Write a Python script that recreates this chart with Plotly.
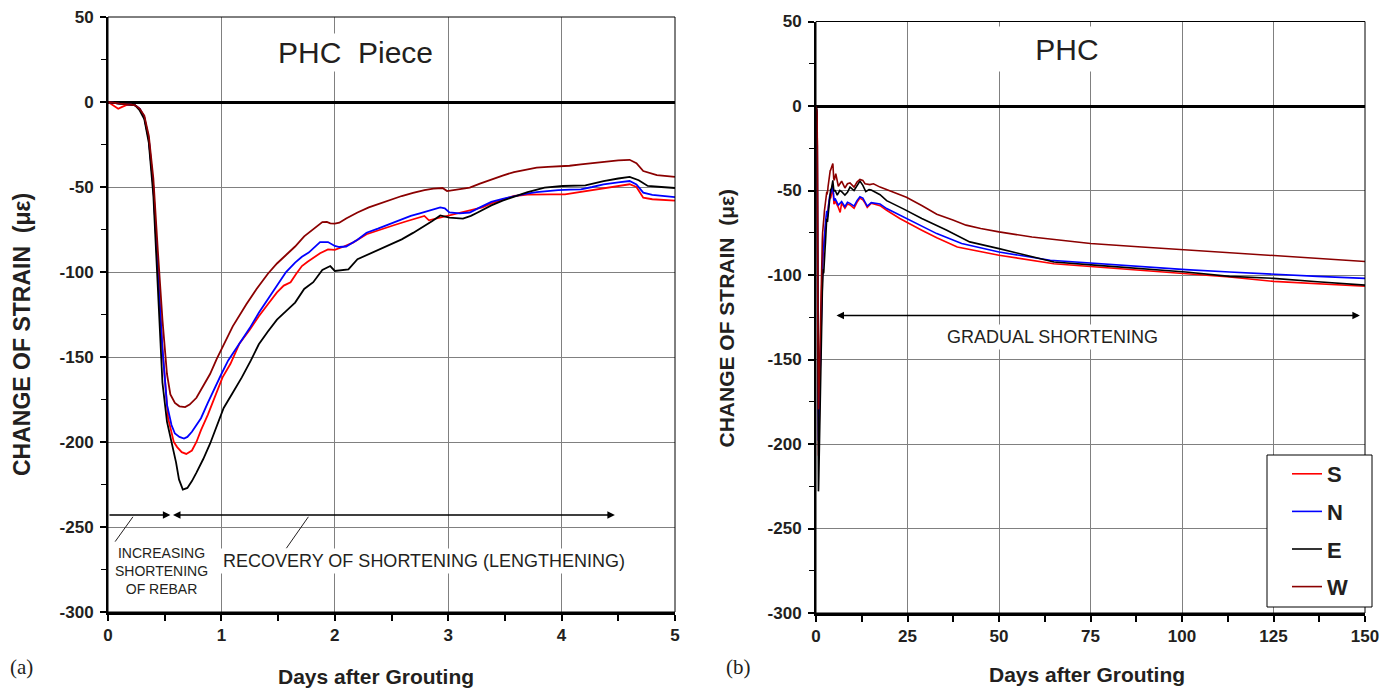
import plotly.graph_objects as go

# ---------------- strain records (micro-strain) ----------------
# First five days after grouting, gauges S / N / E / W
S_days = [0, 0.04, 0.09, 0.12, 0.16, 0.2, 0.24, 0.28, 0.32, 0.36, 0.40, 0.44, 0.48, 0.53, 0.58,
          0.61, 0.65, 0.69, 0.74, 0.78, 0.82, 0.88, 0.94, 1.01, 1.08, 1.16, 1.25, 1.33, 1.41,
          1.49, 1.55, 1.61, 1.66, 1.71, 1.76, 1.81, 1.87, 1.94, 2.0, 2.08, 2.16, 2.28, 2.4,
          2.52, 2.64, 2.75, 2.79, 2.83, 2.9, 2.99, 3.1, 3.19, 3.3, 3.38, 3.48, 3.58, 3.7, 3.78,
          3.9, 4.03, 4.15, 4.24, 4.4, 4.52, 4.6, 4.66, 4.72, 4.8, 4.9, 5.0]
S_strain = [0, -2, -4, -3, -1.8, -1.5, -2, -4, -9, -22, -50, -100, -145, -186, -200,
            -203, -206, -207, -205, -200, -193, -184, -174, -162, -154, -142, -134, -126, -119,
            -112, -108, -106, -101, -96.5, -94, -91.6, -89, -86.7, -87, -85, -82.7, -77.8, -75,
            -72.5, -70, -67.5, -67, -69.6, -68.5, -67, -65.5, -64, -62, -59.6, -57.5, -55.3, -54.5,
            -54.3, -54.3, -54.3, -53, -52.4, -50.5, -49, -48.4, -50, -56.3, -57.2, -57.8, -58]

N_days = [0, 0.1, 0.2, 0.24, 0.28, 0.32, 0.36, 0.40, 0.44, 0.48, 0.52, 0.56, 0.59, 0.63, 0.67,
          0.70, 0.74, 0.78, 0.82, 0.88, 0.94, 1.0, 1.06, 1.16, 1.25, 1.33, 1.41, 1.49, 1.57,
          1.65, 1.71, 1.77, 1.82, 1.87, 1.94, 2.0, 2.04, 2.10, 2.2, 2.28, 2.38, 2.48, 2.58,
          2.67, 2.75, 2.83, 2.93, 2.97, 3.01, 3.1, 3.19, 3.28, 3.38, 3.48, 3.58, 3.68, 3.78,
          3.88, 3.97, 4.08, 4.17, 4.27, 4.37, 4.5, 4.6, 4.66, 4.72, 4.8, 4.9, 5.0]
N_strain = [0, -1, -1.5, -2, -4, -9, -22, -50, -100, -145, -178, -190, -195, -197, -198,
            -197, -194, -190, -186, -177, -168, -160, -152, -142, -133, -124, -116, -108, -100,
            -94.5, -91, -88.6, -85.5, -82.4, -82.4, -84.7, -85.3, -85, -81, -76.9, -74.5, -72, -69.5,
            -67, -65.5, -64, -62, -62.5, -65, -65.5, -65, -62, -58.8, -57, -55.3, -54, -53,
            -52.4, -51.8, -51.6, -51.4, -50, -48.4, -47.3, -46.5, -48.5, -53.3, -54.6, -55.3, -56]

E_days = [0, 0.1, 0.2, 0.24, 0.28, 0.32, 0.36, 0.40, 0.44, 0.48, 0.52, 0.567, 0.60, 0.626,
          0.66, 0.70, 0.74, 0.78, 0.84, 0.90, 0.96, 1.02, 1.1, 1.18, 1.26, 1.33, 1.41, 1.49,
          1.57, 1.65, 1.73, 1.81, 1.89, 1.96, 2.0, 2.06, 2.12, 2.2, 2.3, 2.4, 2.5, 2.59, 2.69,
          2.79, 2.86, 2.93, 2.97, 3.01, 3.13, 3.2, 3.26, 3.38, 3.48, 3.58, 3.7, 3.85, 4.01,
          4.21, 4.37, 4.5, 4.6, 4.68, 4.76, 4.88, 5.0]
E_strain = [0, -1, -1.5, -2, -5, -10, -24, -55, -110, -165, -188, -201, -212, -222,
            -228, -227, -223, -218, -210, -201, -190, -180, -171, -162, -152, -142.5, -135, -128,
            -123, -118, -110, -106, -98.8, -96.5, -99.4, -99, -98.4, -92.5, -89.5, -86.7, -83.7, -80.8, -77,
            -73, -70, -66.7, -67.5, -68, -68.6, -67, -65, -60.8, -58, -55.7, -53, -50.4, -49.4,
            -49, -46.5, -45, -44, -46, -49.4, -50, -50.6]

W_days = [0, 0.1, 0.2, 0.24, 0.28, 0.32, 0.36, 0.40, 0.44, 0.48, 0.52, 0.55, 0.59, 0.63, 0.68,
          0.72, 0.78, 0.84, 0.90, 0.96, 1.02, 1.1, 1.22, 1.31, 1.41, 1.49, 1.57, 1.65, 1.73,
          1.81, 1.89, 1.93, 1.96, 2.0, 2.04, 2.1, 2.2, 2.3, 2.4, 2.5, 2.59, 2.69, 2.79, 2.87,
          2.95, 2.99, 3.1, 3.19, 3.28, 3.38, 3.48, 3.58, 3.68, 3.78, 3.88, 3.97, 4.07, 4.17,
          4.27, 4.37, 4.5, 4.60, 4.66, 4.72, 4.84, 5.0]
W_strain = [0, -1, -1.5, -2, -4, -8, -20, -45, -88, -128, -160, -172, -177, -179, -179.5,
            -178, -174, -167, -160, -151, -143, -132, -119, -110, -101, -95, -90, -85, -79,
            -75, -70.6, -70.5, -71.4, -71.5, -71, -68.5, -65, -62, -59.6, -57.5, -55.3, -53.5, -51.8, -51,
            -50.6, -52.4, -51.5, -50.4, -48, -45.5, -43.3, -41.2, -39.8, -38.6, -38.2, -38, -37.5, -36.7,
            -36, -35, -34.3, -34, -36, -40.6, -43, -44]

# Later readings (after day 5, up to 150 days)
S_late_days = [5.2, 6.1, 6.6, 7.0, 7.9, 8.6, 9.3, 10.4, 11.2, 12, 12.8, 13.4, 14, 15.1, 17.5,
               19.3, 22.9, 28.9, 33, 38.6, 50, 65, 77, 89, 101, 113, 125, 137, 150]
S_late = [-56, -60, -63, -57.5, -60.5, -58, -58.5, -60.5, -57, -54.5, -55.5, -57.5, -60, -57.5, -59,
          -61.7, -66.6, -73.5, -78, -83.4, -88.3, -93.3, -95.3, -97.2, -99.2, -101.2, -103.8, -105.1, -106.7]

N_late_days = [5.2, 6.1, 7.0, 7.9, 8.6, 9.3, 10.4, 11.2, 12, 12.8, 13.4, 14, 15.1, 17.5,
               19.3, 22.9, 28.9, 33, 39.8, 50, 64, 77, 89, 101, 113, 125, 137, 150]
N_late = [-54.7, -58.6, -56.6, -59.6, -57, -57.6, -59.2, -56, -53.7, -54.5, -56.6, -59.2, -57.2, -58,
          -60.7, -64.6, -71.5, -75.5, -81.4, -86.4, -91.3, -93.3, -95.3, -96.8, -98.2, -99.6, -100.8, -102]

E_late_days = [5.2, 5.8, 6.5, 7.0, 7.9, 8.6, 9.3, 10.4, 11.2, 12, 12.8, 13.6, 14.5, 15.1, 17.5,
               19.3, 24, 28.9, 35.6, 42, 50, 57, 65, 77, 89, 101, 113, 125, 137, 150]
E_late = [-49.7, -52.7, -50, -50.7, -52.7, -51, -48, -50, -47, -44.4, -47, -50.7, -49.5, -49.7, -52.5,
          -56, -61, -66.6, -73.4, -80.4, -84.4, -88, -92.3, -94.3, -96.2, -98.2, -100.8, -102, -104, -106]

W_late_days = [5.4, 6.1, 7.0, 7.9, 8.6, 9.3, 10.4, 11.2, 12, 12.8, 13.4, 14.7, 15.7, 17.5, 21,
               24.7, 29, 33, 37.4, 41, 45, 50, 59, 67, 75, 89, 100, 113, 125, 137, 150]
W_late = [-40, -47.5, -44.5, -48.5, -46, -45.5, -48, -45, -43.5, -44, -46, -46.5, -46, -48, -50.7,
          -54, -59, -64, -67.5, -70.5, -72.5, -74.5, -77.5, -79.5, -81.4, -83.4, -85, -87, -88.5, -90.3, -92]

series_names = ["S", "N", "E", "W"]
series_colors = ["#ff0000", "#0000ff", "#000000", "#8b0000"]

y_tickvals = [50, 0, -50, -100, -150, -200, -250, -300]
y_ticktext = ["50", "0", "-50", "-100", "-150", "-200", "-250", "-300"]
xa_tickvals = [0, 1, 2, 3, 4, 5]
xb_tickvals = [0, 25, 50, 75, 100, 125, 150]

# ---------------- page geometry (pixels) ----------------
W, H = 1392, 690
FONT = "Liberation Sans, Arial, sans-serif"
SERIF = "Liberation Serif, Times New Roman, serif"
TXT = "#231f20"


def fx(p):
    return p / W


def fy(p):
    return 1 - p / H


early = {"S": (S_days, S_strain), "N": (N_days, N_strain),
         "E": (E_days, E_strain), "W": (W_days, W_strain)}
late = {"S": (S_late_days, S_late), "N": (N_late_days, N_late),
        "E": (E_late_days, E_late), "W": (W_late_days, W_late)}

fig = go.Figure()

for name, color in zip(series_names, series_colors):
    d, v = early[name]
    fig.add_trace(go.Scatter(x=d, y=v, mode="lines", name=name, showlegend=False,
                             line=dict(color=color, width=1.8), xaxis="x", yaxis="y"))

for name, color in zip(series_names, series_colors):
    d, v = early[name]
    d2, v2 = late[name]
    fig.add_trace(go.Scatter(x=list(d) + list(d2), y=list(v) + list(v2), mode="lines",
                             name=name, legendgroup=name, showlegend=True,
                             line=dict(color=color, width=1.6), xaxis="x2", yaxis="y2"))

tickfont = dict(family=FONT, size=17, color=TXT, weight="bold")
common_x = dict(showgrid=True, gridcolor="#808080", gridwidth=1, zeroline=False,
                showline=True, linecolor="black", linewidth=3, ticks="outside",
                ticklen=6, tickwidth=1.5, tickcolor="black", tickfont=tickfont,
                tickmode="array", automargin=False)
common_y = dict(showgrid=True, gridcolor="#808080", gridwidth=1, zeroline=True,
                zerolinecolor="black", zerolinewidth=3, showline=True,
                linecolor="black", linewidth=2, ticks="outside", ticklen=6,
                tickwidth=1.5, tickcolor="black", tickfont=tickfont, tickmode="array",
                tickvals=y_tickvals, ticktext=y_ticktext, range=[-300, 50],
                ticklabelstandoff=3, automargin=False,
                minor=dict(tick0=0, dtick=25, ticks="outside", ticklen=5,
                           tickcolor="black", tickwidth=1.2, showgrid=False))

fig.update_layout(
    width=W, height=H, margin=dict(l=0, r=0, t=0, b=0, autoexpand=False),
    paper_bgcolor="white", plot_bgcolor="white",
    xaxis=dict(common_x, domain=[fx(108), fx(675)], range=[0, 5],
               tickvals=xa_tickvals, ticktext=[str(v) for v in xa_tickvals],
               anchor="y",
               minor=dict(tick0=0, dtick=0.5, ticks="outside", ticklen=6,
                          tickcolor="black", tickwidth=1.5, showgrid=False)),
    yaxis=dict(common_y, domain=[fy(612), fy(17)], anchor="x"),
    xaxis2=dict(common_x, domain=[fx(816), fx(1365)], range=[0, 150],
                tickvals=xb_tickvals, ticktext=[str(v) for v in xb_tickvals],
                anchor="y2",
                minor=dict(tick0=0, dtick=12.5, ticks="outside", ticklen=6,
                           tickcolor="black", tickwidth=1.5, showgrid=False)),
    yaxis2=dict(common_y, domain=[fy(613), fy(21.5)], anchor="x2"),
    legend=dict(x=fx(1287), y=fy(453), xanchor="left", yanchor="top",
                bgcolor="rgba(0,0,0,0)", borderwidth=0, itemwidth=30,
                tracegroupgap=6,
                font=dict(family=FONT, size=22, color=TXT, weight="bold")),
)

shapes = []
# thin frames around both plotting areas
for xr, yr in (("x domain", "y domain"), ("x2 domain", "y2 domain")):
    shapes.append(dict(type="rect", xref=xr, yref=yr, x0=0, x1=1, y0=0, y1=1,
                       line=dict(color="black", width=1), layer="above"))
# leader lines from the arrows to their labels (panel a)
shapes.append(dict(type="line", xref="x", yref="y", x0=0.22, y0=-244, x1=0.063, y1=-258.6,
                   line=dict(color=TXT, width=1)))
shapes.append(dict(type="line", xref="x", yref="y", x0=1.767, y0=-244, x1=1.572, y1=-262.6,
                   line=dict(color=TXT, width=1)))
# legend box
shapes.append(dict(type="rect", xref="paper", yref="paper", x0=fx(1267), x1=fx(1372),
                   y0=fy(607), y1=fy(455), fillcolor="white",
                   line=dict(color="black", width=1), layer="above"))
fig.update_layout(shapes=shapes)

ann = []
# arrows, panel a
arrow = dict(text="", showarrow=True, arrowhead=2, arrowsize=1, arrowwidth=1.5,
             arrowcolor="black", standoff=0, startstandoff=0)
ann.append(dict(arrow, x=0.55, y=-243, ax=0, ay=-243, xref="x", yref="y", axref="x", ayref="y"))
ann.append(dict(arrow, x=4.47, y=-243, ax=0.56, ay=-243, xref="x", yref="y", axref="x", ayref="y",
                arrowside="end+start"))
# arrow, panel b
ann.append(dict(arrow, x=148.6, y=-124, ax=5.2, ay=-124, xref="x2", yref="y2", axref="x2",
                ayref="y2", arrowside="end+start"))

# text labels inside the panels
ann.append(dict(text="PHC  Piece", x=2.18, y=29.4, xref="x", yref="y", showarrow=False,
                font=dict(family=FONT, size=30, color=TXT), bgcolor="white", borderpad=2))
ann.append(dict(text="PHC", x=68.5, y=33.7, xref="x2", yref="y2", showarrow=False,
                font=dict(family=FONT, size=30, color=TXT), bgcolor="white",
                width=140, height=42))
ann.append(dict(text="GRADUAL SHORTENING", x=64.6, y=-136.7, xref="x2", yref="y2",
                showarrow=False, font=dict(family=FONT, size=18, color=TXT),
                bgcolor="white", borderpad=2))
ann.append(dict(text="RECOVERY OF SHORTENING (LENGTHENING)", x=2.79, y=-270, xref="x",
                yref="y", showarrow=False, font=dict(family=FONT, size=18, color=TXT),
                bgcolor="white", borderpad=2))
ann.append(dict(text="INCREASING<br>SHORTENING<br>OF REBAR", x=0.476, y=-275.9, xref="x",
                yref="y", showarrow=False, font=dict(family=FONT, size=14, color=TXT),
                align="center"))

centered = dict(xref="paper", yref="paper", showarrow=False, xanchor="center",
                yanchor="middle")
# axis titles
ann.append(dict(centered, text="CHANGE OF STRAIN  (\u03bc\u03b5)", x=fx(22), y=fy(335),
                textangle=-90, font=dict(family=FONT, size=23, color=TXT, weight="bold")))
ann.append(dict(centered, text="CHANGE OF STRAIN  (\u03bc\u03b5)", x=fx(726), y=fy(318.5),
                textangle=-90, font=dict(family=FONT, size=21, color=TXT, weight="bold")))
ann.append(dict(centered, text="Days after Grouting", x=fx(375.5), y=fy(676),
                font=dict(family=FONT, size=21, color=TXT, weight="bold")))
ann.append(dict(centered, text="Days after Grouting", x=fx(1087), y=fy(674),
                font=dict(family=FONT, size=21, color=TXT, weight="bold")))
# panel tags
ann.append(dict(centered, text="(a)", x=fx(21), y=fy(667),
                font=dict(family=SERIF, size=21, color=TXT)))
ann.append(dict(centered, text="(b)", x=fx(739), y=fy(667),
                font=dict(family=SERIF, size=21, color=TXT)))

fig.update_layout(annotations=ann)

fig.write_html("out.html")
